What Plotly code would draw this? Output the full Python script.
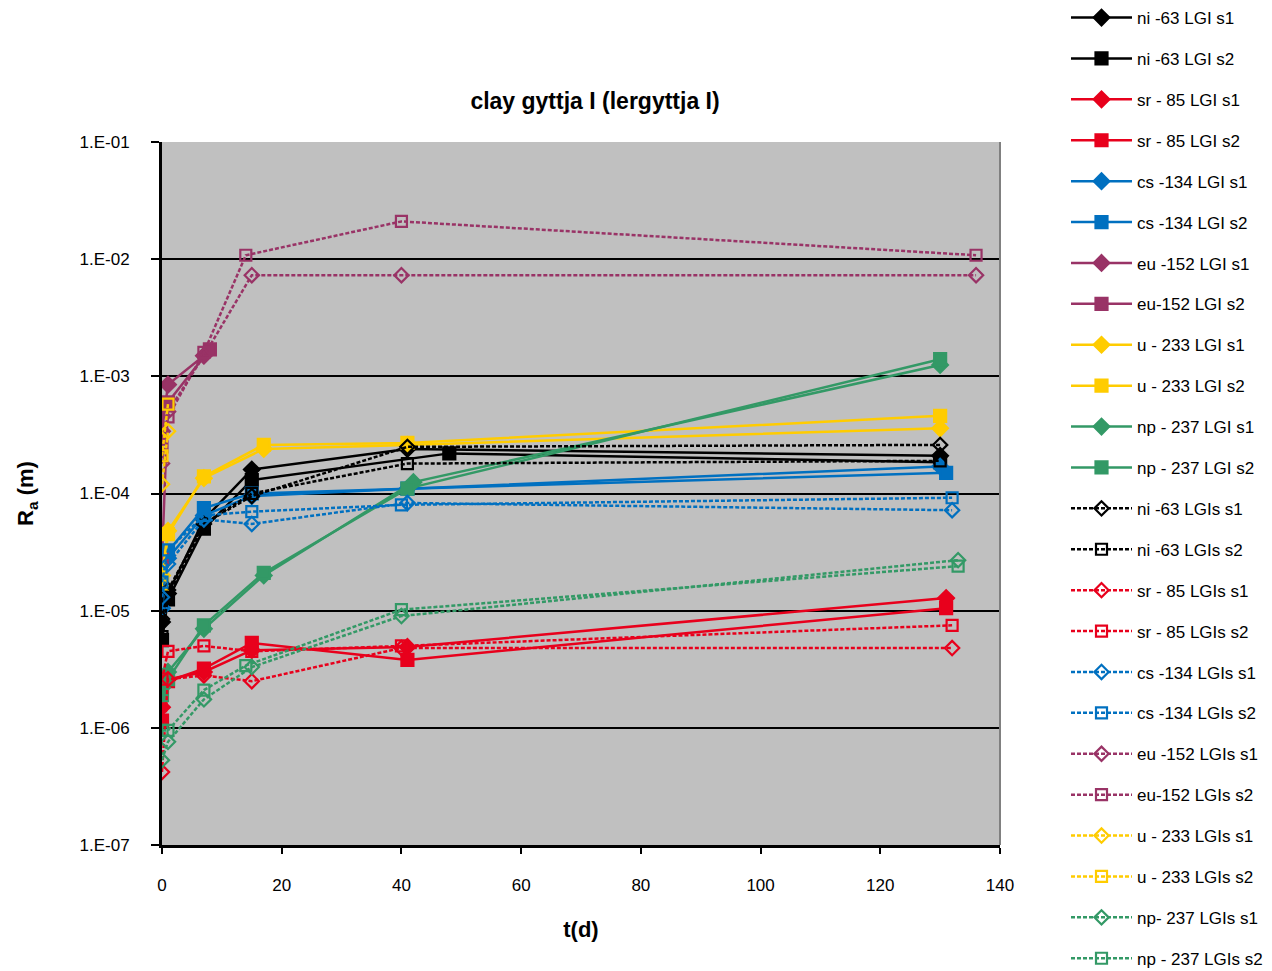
import plotly.graph_objects as go

# ---- data (t in days, Ra in m) ----
ni_lgi_s1_t = [0, 1, 7, 15, 41, 130]
ni_lgi_s1_y = [8.0e-6, 1.4e-5, 6.0e-5, 1.6e-4, 2.4e-4, 2.1e-4]
ni_lgi_s2_t = [0, 1, 7, 15, 48, 130]
ni_lgi_s2_y = [5.6e-6, 1.25e-5, 5.0e-5, 1.3e-4, 2.2e-4, 1.85e-4]

sr_lgi_s1_t = [0, 1, 7, 15, 41, 131]
sr_lgi_s1_y = [1.5e-6, 2.6e-6, 3.0e-6, 4.6e-6, 4.9e-6, 1.28e-5]
sr_lgi_s2_t = [0, 1, 7, 15, 41, 131]
sr_lgi_s2_y = [1.15e-6, 2.5e-6, 3.2e-6, 5.3e-6, 3.8e-6, 1.05e-5]

cs_lgi_s1_t = [0, 1, 7, 15, 41, 130]
cs_lgi_s1_y = [1.05e-5, 2.8e-5, 6.5e-5, 9.5e-5, 1.1e-4, 1.7e-4]
cs_lgi_s2_t = [0, 1, 7, 15, 41, 131]
cs_lgi_s2_y = [1.75e-5, 3.2e-5, 7.5e-5, 1.0e-4, 1.1e-4, 1.5e-4]

eu_lgi_s1_t = [0, 1, 7]
eu_lgi_s1_y = [3.4e-4, 8.5e-4, 1.5e-3]
eu_lgi_s2_t = [0, 1, 8]
eu_lgi_s2_y = [2.8e-5, 6.0e-4, 1.7e-3]

u_lgi_s1_t = [0, 1, 7, 17, 41, 130]
u_lgi_s1_y = [2.0e-5, 4.8e-5, 1.35e-4, 2.4e-4, 2.6e-4, 3.6e-4]
u_lgi_s2_t = [0, 1, 7, 17, 41, 130]
u_lgi_s2_y = [1.7e-5, 4.5e-5, 1.4e-4, 2.6e-4, 2.7e-4, 4.6e-4]

np_lgi_s1_t = [0, 1, 7, 17, 42, 130]
np_lgi_s1_y = [2.2e-6, 3.0e-6, 7.0e-6, 2.0e-5, 1.25e-4, 1.25e-3]
np_lgi_s2_t = [0, 1, 7, 17, 41, 130]
np_lgi_s2_y = [1.9e-6, 2.6e-6, 7.5e-6, 2.1e-5, 1.1e-4, 1.4e-3]

ni_lgis_s1_t = [0, 1, 7, 15, 41, 130]
ni_lgis_s1_y = [8.5e-6, 1.5e-5, 5.5e-5, 9.5e-5, 2.5e-4, 2.6e-4]
ni_lgis_s2_t = [0, 1, 7, 15, 41, 130]
ni_lgis_s2_y = [6.0e-6, 1.3e-5, 5.5e-5, 1.0e-4, 1.8e-4, 1.9e-4]

sr_lgis_s1_t = [0, 1, 7, 15, 40, 132]
sr_lgis_s1_y = [4.2e-7, 2.6e-6, 2.8e-6, 2.5e-6, 4.8e-6, 4.8e-6]
sr_lgis_s2_t = [0, 1, 7, 15, 40, 132]
sr_lgis_s2_y = [2.6e-6, 4.5e-6, 5.0e-6, 4.5e-6, 5.0e-6, 7.5e-6]

cs_lgis_s1_t = [0, 1, 7, 15, 41, 132]
cs_lgis_s1_y = [1.3e-5, 2.5e-5, 6.0e-5, 5.5e-5, 8.3e-5, 7.2e-5]
cs_lgis_s2_t = [0, 1, 7, 15, 40, 132]
cs_lgis_s2_y = [1.75e-5, 3.3e-5, 6.5e-5, 7.0e-5, 8.0e-5, 9.2e-5]

eu_lgis_s1_t = [0, 1, 7, 15, 40, 136]
eu_lgis_s1_y = [1.8e-4, 5.0e-4, 1.5e-3, 7.3e-3, 7.3e-3, 7.3e-3]
eu_lgis_s2_t = [0, 1, 7, 14, 40, 136]
eu_lgis_s2_y = [2.5e-4, 4.5e-4, 1.6e-3, 1.08e-2, 2.1e-2, 1.08e-2]

u_lgis_s1_t = [0, 1]
u_lgis_s1_y = [1.2e-4, 3.4e-4]
u_lgis_s2_t = [0, 1]
u_lgis_s2_y = [2.1e-4, 5.8e-4]

np_lgis_s1_t = [0, 1, 7, 15, 40, 133]
np_lgis_s1_y = [5.3e-7, 7.6e-7, 1.75e-6, 3.3e-6, 9.0e-6, 2.7e-5]
np_lgis_s2_t = [0, 1, 7, 14, 40, 133]
np_lgis_s2_y = [9.5e-7, 9.5e-7, 2.1e-6, 3.4e-6, 1.02e-5, 2.4e-5]

y_tickvals = [1e-7, 1e-6, 1e-5, 1e-4, 1e-3, 1e-2, 1e-1]
y_ticktext = ["1.E-07", "1.E-06", "1.E-05", "1.E-04", "1.E-03", "1.E-02", "1.E-01"]

# ---- styling ----
COL = {"ni": "#000000", "sr": "#E8001C", "cs": "#0070C0",
       "eu": "#993366", "u": "#FFCC00", "np": "#339966"}

series = [
    ("ni -63 LGI s1", "ni", "s1", False, ni_lgi_s1_t, ni_lgi_s1_y),
    ("ni -63 LGI s2", "ni", "s2", False, ni_lgi_s2_t, ni_lgi_s2_y),
    ("sr - 85 LGI s1", "sr", "s1", False, sr_lgi_s1_t, sr_lgi_s1_y),
    ("sr - 85 LGI s2", "sr", "s2", False, sr_lgi_s2_t, sr_lgi_s2_y),
    ("cs -134 LGI s1", "cs", "s1", False, cs_lgi_s1_t, cs_lgi_s1_y),
    ("cs -134 LGI s2", "cs", "s2", False, cs_lgi_s2_t, cs_lgi_s2_y),
    ("eu -152 LGI s1", "eu", "s1", False, eu_lgi_s1_t, eu_lgi_s1_y),
    ("eu-152 LGI s2", "eu", "s2", False, eu_lgi_s2_t, eu_lgi_s2_y),
    ("u - 233 LGI s1", "u", "s1", False, u_lgi_s1_t, u_lgi_s1_y),
    ("u - 233 LGI s2", "u", "s2", False, u_lgi_s2_t, u_lgi_s2_y),
    ("np - 237 LGI s1", "np", "s1", False, np_lgi_s1_t, np_lgi_s1_y),
    ("np - 237 LGI s2", "np", "s2", False, np_lgi_s2_t, np_lgi_s2_y),
    ("ni -63 LGIs s1", "ni", "s1", True, ni_lgis_s1_t, ni_lgis_s1_y),
    ("ni -63 LGIs s2", "ni", "s2", True, ni_lgis_s2_t, ni_lgis_s2_y),
    ("sr - 85 LGIs s1", "sr", "s1", True, sr_lgis_s1_t, sr_lgis_s1_y),
    ("sr - 85 LGIs s2", "sr", "s2", True, sr_lgis_s2_t, sr_lgis_s2_y),
    ("cs -134 LGIs s1", "cs", "s1", True, cs_lgis_s1_t, cs_lgis_s1_y),
    ("cs -134 LGIs s2", "cs", "s2", True, cs_lgis_s2_t, cs_lgis_s2_y),
    ("eu -152 LGIs s1", "eu", "s1", True, eu_lgis_s1_t, eu_lgis_s1_y),
    ("eu-152 LGIs s2", "eu", "s2", True, eu_lgis_s2_t, eu_lgis_s2_y),
    ("u - 233 LGIs s1", "u", "s1", True, u_lgis_s1_t, u_lgis_s1_y),
    ("u - 233 LGIs s2", "u", "s2", True, u_lgis_s2_t, u_lgis_s2_y),
    ("np- 237 LGIs s1", "np", "s1", True, np_lgis_s1_t, np_lgis_s1_y),
    ("np - 237 LGIs s2", "np", "s2", True, np_lgis_s2_t, np_lgis_s2_y),
]

fig = go.Figure()
for name, el, samp, dashed, t, y in series:
    c = COL[el]
    if samp == "s1":
        sym = "diamond-open" if dashed else "diamond"
        size = 11 if dashed else 12
    else:
        sym = "square-open" if dashed else "square"
        size = 11 if dashed else 12
    fig.add_trace(go.Scatter(
        x=t, y=y, name=name, mode="lines+markers",
        legendgroup=name,
        line=dict(color=c, width=2.5, dash="4px,2px" if dashed else "solid"),
        marker=dict(symbol=sym, size=size, color=c,
                    line=dict(color=c, width=2.2)),
    ))

fig.add_shape(type="line", xref="paper", yref="paper", x0=1, x1=1, y0=0, y1=1,
              line=dict(color="#808080", width=2))

fig.update_layout(
    width=1272, height=971,
    paper_bgcolor="white", plot_bgcolor="#C0C0C0",
    font=dict(family="Liberation Sans, Arial, sans-serif", color="black", size=17),
    margin=dict(l=162, r=272, t=142, b=126),
    title=dict(text="<b>clay gyttja I (lergyttja I)</b>", x=595 / 1272, xanchor="center",
               y=1 - 101 / 971, yanchor="middle", font=dict(size=23)),
    showlegend=True,
    legend=dict(xref="container", yref="container", x=1066 / 1272, y=1.0,
                xanchor="left", yanchor="top", bgcolor="rgba(0,0,0,0)",
                font=dict(size=17), tracegroupgap=15.8, itemwidth=61,
                maxheight=3000),
)
fig.update_xaxes(range=[0, 140], dtick=20, tick0=0, showgrid=False, zeroline=False,
                 showline=True, linecolor="black", linewidth=3,
                 ticks="outside", ticklen=6, tickcolor="black", tickwidth=2,
                 ticklabelstandoff=17,
                 title=dict(text="<b>t(d)</b>", font=dict(size=22), standoff=28),
                 tickfont=dict(size=17))
fig.update_yaxes(type="log", range=[-7, -1], tickvals=y_tickvals, ticktext=y_ticktext,
                 showgrid=True, gridcolor="black", gridwidth=2,
                 showline=True, linecolor="black", linewidth=3,
                 ticks="outside", ticklen=8, tickcolor="black", tickwidth=2,
                 ticklabelstandoff=18,
                 title=dict(text="<b>R<sub>a</sub> (m)</b>", font=dict(size=22), standoff=40),
                 tickfont=dict(size=17))

fig.write_html("out.html")
